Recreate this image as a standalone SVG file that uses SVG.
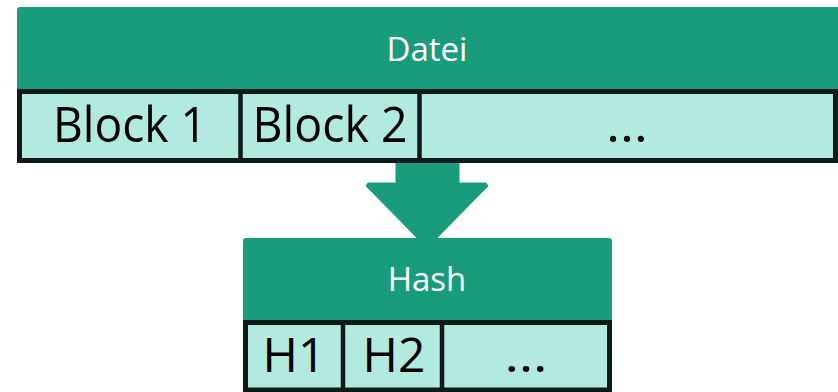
<svg xmlns="http://www.w3.org/2000/svg" width="838" height="392" viewBox="0 0 838 392">
  <style>
    .hdr { fill: #199c7c; }
    .cell { fill: #b2eadf; stroke: #0e1a17; stroke-width: 5; }
    .div { stroke: #0e1a17; stroke-width: 4.5; }
    .title { font-family: "Open Sans", "Noto Sans", sans-serif; font-size: 33px; fill: #ffffff; text-anchor: middle; }
    .lbl { font-family: "Open Sans", "Noto Sans", sans-serif; fill: #000000; text-anchor: middle; }
  </style>
  <rect width="838" height="392" fill="#ffffff"/>
  <g id="connectors">
    <polygon class="hdr" points="396,158 459,158 459,183 486,183 488,186 427,248 366,186 368,183 396,183" stroke="#199c7c" stroke-width="1" stroke-linejoin="round"/>
  </g>
  <g id="datei">
    <rect class="hdr" x="17" y="7" width="830" height="90" rx="3"/>
    <text class="title" x="427" y="61">Datei</text>
    <rect class="cell" x="19.5" y="91.5" width="816" height="69"/>
    <line class="div" x1="240.5" y1="91.5" x2="240.5" y2="160.5"/>
    <line class="div" x1="419.5" y1="91.5" x2="419.5" y2="160.5"/>
    <text class="lbl" x="130" y="142" font-size="50" textLength="154" lengthAdjust="spacingAndGlyphs">Block 1</text>
    <text class="lbl" x="330" y="142" font-size="50" textLength="155" lengthAdjust="spacingAndGlyphs">Block 2</text>
    <text class="lbl" x="627" y="142" font-size="50" textLength="42" lengthAdjust="spacingAndGlyphs">…</text>
  </g>
  <g id="hash">
    <rect class="hdr" x="243" y="238" width="369" height="90" rx="3"/>
    <text class="title" x="427" y="291">Hash</text>
    <rect class="cell" x="245.5" y="322.5" width="364" height="67.5"/>
    <line class="div" x1="343" y1="322.5" x2="343" y2="390"/>
    <line class="div" x1="442" y1="322.5" x2="442" y2="390"/>
    <text class="lbl" x="294" y="372" font-size="48">H1</text>
    <text class="lbl" x="394" y="372" font-size="48">H2</text>
    <text class="lbl" x="526" y="372" font-size="48" textLength="43" lengthAdjust="spacingAndGlyphs">…</text>
  </g>
</svg>
